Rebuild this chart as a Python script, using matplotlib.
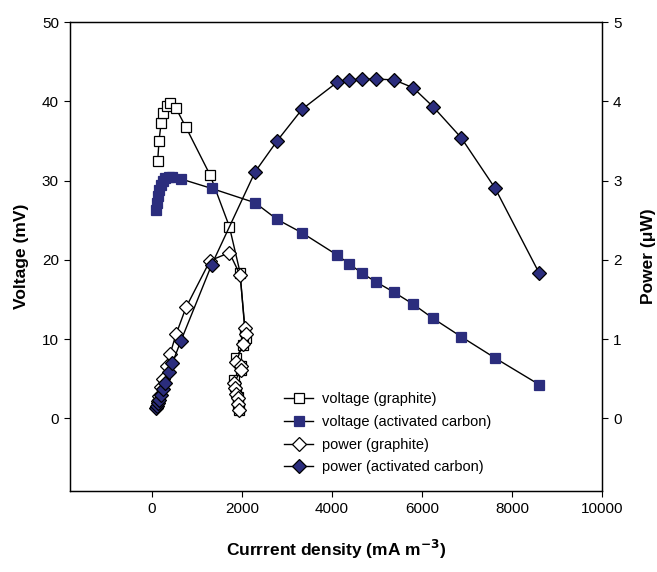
import matplotlib
matplotlib.use("Agg")
import matplotlib.pyplot as plt

plt.rcParams['font.family'] = ['Liberation Sans', 'DejaVu Sans']

# Graphite electrode
i_graphite = [133, 162, 207, 258, 333, 407, 540, 762, 1296, 1724, 1962,
              2070, 2090, 2030, 1873, 1984, 1984, 1829, 1851, 1873, 1918, 1918, 1940]
v_graphite = [32.5, 35.0, 37.2, 38.5, 39.4, 39.8, 39.1, 36.7, 30.7, 24.2, 18.4,
              11.0, 10.2, 9.3, 7.6, 6.6, 6.1, 4.9, 4.1, 3.3, 2.7, 1.9, 1.05]
p_graphite = [0.22, 0.28, 0.39, 0.50, 0.66, 0.81, 1.06, 1.40, 1.99, 2.09, 1.81,
              1.14, 1.07, 0.94, 0.71, 0.66, 0.61, 0.45, 0.38, 0.31, 0.26, 0.18, 0.10]

# Activated carbon electrode
i_carbon = [100, 115, 135, 160, 200, 250, 300, 380, 460, 650,
            1333, 2296, 2784, 3340, 4118, 4384, 4673, 4984, 5384, 5807,
            6251, 6873, 7629, 8607]
v_carbon = [26.3, 27.2, 28.0, 28.8, 29.5, 30.0, 30.3, 30.5, 30.4, 30.2,
            29.0, 27.2, 25.1, 23.4, 20.6, 19.5, 18.3, 17.2, 15.9, 14.4,
            12.6, 10.3, 7.6, 4.25]
p_carbon = [0.13, 0.16, 0.19, 0.23, 0.30, 0.375, 0.45, 0.58, 0.70, 0.98,
            1.94, 3.11, 3.50, 3.90, 4.24, 4.27, 4.28, 4.28, 4.27, 4.17,
            3.93, 3.54, 2.90, 1.83]

x_ticks = [0, 2000, 4000, 6000, 8000, 10000]
v_ticks = [0, 10, 20, 30, 40, 50]
p_ticks = [0, 1, 2, 3, 4, 5]

navy = '#2b2d7d'

fig = plt.figure(figsize=(6.57, 5.72), dpi=100)
ax = fig.add_axes([70/657, 1-490.5/572, (602-70)/657, (490.5-22)/572])
ax2 = ax.twinx()

ax.plot(i_graphite, v_graphite, color='black', lw=1.0, marker='s', ms=7,
        mfc='white', mec='black', mew=0.9, label='voltage (graphite)', zorder=3)
ax.plot(i_carbon, v_carbon, color='black', lw=1.0, marker='s', ms=7,
        mfc=navy, mec=navy, mew=0.9, label='voltage (activated carbon)', zorder=3)
ax2.plot(i_graphite, p_graphite, color='black', lw=1.0, marker='D', ms=7.5,
         mfc='white', mec='black', mew=0.9, label='power (graphite)', zorder=3)
ax2.plot(i_carbon, p_carbon, color='black', lw=1.0, marker='D', ms=7.5,
         mfc=navy, mec='black', mew=0.9, label='power (activated carbon)', zorder=3)

ax.set_xlim(-1815, 10000)
ax.set_ylim(-9.1, 50)
ax2.set_ylim(-0.91, 5)
ax.set_xticks(x_ticks)
ax.set_yticks(v_ticks)
ax2.set_yticks(p_ticks)

for a in (ax, ax2):
    a.tick_params(direction='out', length=4, width=0.8, labelsize=11, pad=4)
    for s in a.spines.values():
        s.set_linewidth(0.9)

ax.set_xlabel('Currrent density (mA m$^{\\mathbf{-3}}$)', fontsize=12.5,
              fontweight='bold', labelpad=16)
ax.set_ylabel('Voltage (mV)', fontsize=12.5, fontweight='bold', labelpad=9)
ax2.set_ylabel('Power (\u03bcW)', fontsize=12.5, fontweight='bold', labelpad=14)

handles = ax.get_lines() + ax2.get_lines()
leg = ax2.legend(handles=handles, labels=[h.get_label() for h in handles],
                 loc='upper left', bbox_to_anchor=(271/657, 1-379/572),
                 bbox_transform=fig.transFigure, frameon=False, fontsize=10.5,
                 handlelength=2.0, handletextpad=0.6, labelspacing=0.6)

fig.savefig('out.png', dpi=100)
